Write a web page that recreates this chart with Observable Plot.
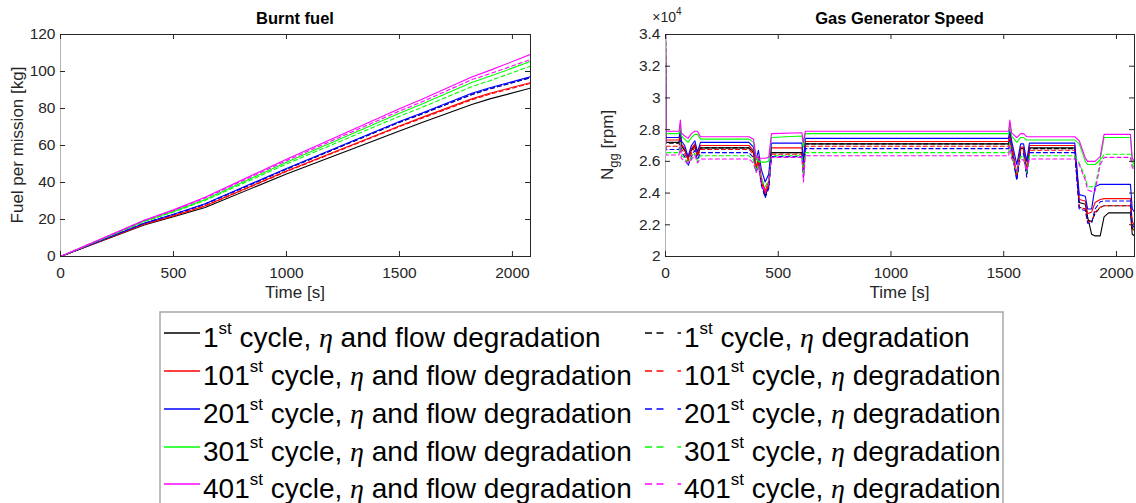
<!DOCTYPE html>
<html><head><meta charset="utf-8">
<script src="https://cdn.jsdelivr.net/npm/d3@7"></script>
<script src="https://cdn.jsdelivr.net/npm/@observablehq/plot@0.6"></script>
<style>
body{margin:0;background:#fff;font-family:"Liberation Sans",Arial,sans-serif;}
#wrap{position:relative;width:1136px;height:503px;overflow:hidden;background:#fff;}
#wrap svg{position:absolute;top:0;}
</style></head><body><div id="wrap"></div>
<script>
const cycles = ["1", "101", "201", "301", "401"];
const colors = ["#000000", "#ff0000", "#0000ff", "#00ff00", "#ff00ff"];
const xTicks = [0, 500, 1000, 1500, 2000];
const fuelTicks = [0, 20, 40, 60, 80, 100, 120];
const nggTicks = [2, 2.2, 2.4, 2.6, 2.8, 3, 3.2, 3.4];

// Burnt fuel [kg]
const fuelTime = [0, 370, 500, 640, 1000, 1500, 1600, 1820, 1900, 2080];
const fuelFull1   = [0, 17.0, 21.5, 26.5, 44.6, 67.8, 72.4, 82.2, 85.2, 91.0];
const fuelFull101 = [0, 17.5, 22.0, 27.4, 46.2, 70.6, 75.2, 85.2, 88.2, 94.0];
const fuelFull201 = [0, 18.0, 22.8, 28.5, 47.6, 73.0, 77.6, 88.2, 91.2, 97.2];
const fuelFull301 = [0, 19.0, 24.4, 30.8, 51.0, 77.4, 82.4, 94.0, 97.4, 105.4];
const fuelFull401 = [0, 19.6, 25.2, 32.0, 52.6, 79.8, 85.0, 97.0, 100.6, 109.2];
const fuelEta1    = [0, 17.9, 22.7, 28.3, 47.2, 72.5, 77.0, 87.5, 90.6, 96.6];
const fuelEta101  = [0, 17.4, 21.9, 27.3, 45.9, 70.2, 74.7, 84.7, 87.7, 93.6];
const fuelEta201  = [0, 17.9, 22.7, 28.3, 47.3, 72.7, 77.2, 87.6, 90.7, 96.7];
const fuelEta301  = [0, 18.8, 24.0, 30.3, 50.0, 75.8, 80.6, 91.8, 95.0, 102.9];
const fuelEta401  = [0, 19.4, 24.9, 31.6, 51.8, 78.6, 83.6, 95.6, 98.8, 106.4];

// Gas generator speed [x10^4 rpm]
const nggTime = [0, 2, 60, 66, 70, 85, 100, 115, 130, 142, 155, 370, 390, 402, 412, 425, 442, 458, 470, 605, 612, 620,
  1522, 1527, 1535, 1558, 1575, 1588, 1602, 1614, 1815, 1835, 1862, 1872, 1890, 1905, 1928, 1945, 1965, 2062, 2070, 2080];
const nggFull1 = [3.40, 2.72, 2.72, 2.78, 2.70, 2.67, 2.62, 2.67, 2.70, 2.64, 2.685, 2.685, 2.66, 2.55, 2.61, 2.47, 2.38, 2.45, 2.655, 2.655, 2.55, 2.71,
  2.71, 2.78, 2.70, 2.49, 2.68, 2.68, 2.52, 2.685, 2.685, 2.34, 2.33, 2.25, 2.14, 2.13, 2.13, 2.25, 2.275, 2.275, 2.14, 2.13];
const nggFull101 = [3.40, 2.735, 2.735, 2.79, 2.71, 2.68, 2.61, 2.68, 2.71, 2.65, 2.70, 2.70, 2.67, 2.56, 2.63, 2.50, 2.41, 2.48, 2.685, 2.685, 2.57, 2.725,
  2.725, 2.79, 2.71, 2.52, 2.69, 2.69, 2.55, 2.70, 2.70, 2.36, 2.35, 2.27, 2.28, 2.34, 2.36, 2.365, 2.365, 2.365, 2.22, 2.20];
const nggFull201 = [3.40, 2.75, 2.75, 2.80, 2.73, 2.70, 2.63, 2.70, 2.73, 2.66, 2.72, 2.72, 2.69, 2.61, 2.67, 2.55, 2.47, 2.52, 2.715, 2.715, 2.60, 2.745,
  2.745, 2.80, 2.73, 2.58, 2.71, 2.71, 2.60, 2.715, 2.715, 2.39, 2.38, 2.30, 2.30, 2.44, 2.455, 2.455, 2.455, 2.455, 2.30, 2.28];
const nggFull301 = [3.40, 2.775, 2.775, 2.84, 2.76, 2.74, 2.72, 2.75, 2.77, 2.77, 2.74, 2.74, 2.72, 2.62, 2.60, 2.595, 2.595, 2.60, 2.75, 2.76, 2.69, 2.775,
  2.775, 2.84, 2.76, 2.72, 2.75, 2.75, 2.735, 2.735, 2.735, 2.71, 2.60, 2.58, 2.58, 2.58, 2.61, 2.75, 2.75, 2.75, 2.60, 2.58];
const nggFull401 = [3.40, 2.79, 2.79, 2.86, 2.78, 2.76, 2.745, 2.775, 2.79, 2.79, 2.755, 2.755, 2.74, 2.63, 2.62, 2.62, 2.62, 2.625, 2.775, 2.78, 2.72, 2.79,
  2.79, 2.86, 2.78, 2.75, 2.775, 2.775, 2.755, 2.755, 2.755, 2.73, 2.62, 2.60, 2.60, 2.60, 2.63, 2.77, 2.77, 2.77, 2.62, 2.60];
const nggEta1 = [3.40, 2.715, 2.715, 2.78, 2.70, 2.67, 2.62, 2.67, 2.70, 2.64, 2.685, 2.685, 2.655, 2.55, 2.60, 2.46, 2.39, 2.44, 2.655, 2.655, 2.53, 2.71,
  2.71, 2.78, 2.70, 2.49, 2.68, 2.68, 2.52, 2.68, 2.68, 2.31, 2.30, 2.23, 2.22, 2.27, 2.31, 2.32, 2.32, 2.32, 2.18, 2.16];
const nggEta101 = [3.40, 2.695, 2.695, 2.76, 2.68, 2.65, 2.60, 2.65, 2.69, 2.63, 2.675, 2.675, 2.645, 2.54, 2.60, 2.47, 2.40, 2.45, 2.645, 2.645, 2.52, 2.695,
  2.695, 2.76, 2.68, 2.50, 2.67, 2.67, 2.52, 2.67, 2.67, 2.31, 2.30, 2.22, 2.22, 2.28, 2.31, 2.32, 2.32, 2.32, 2.18, 2.16];
const nggEta201 = [3.40, 2.675, 2.675, 2.74, 2.66, 2.63, 2.57, 2.63, 2.67, 2.61, 2.655, 2.655, 2.625, 2.53, 2.58, 2.45, 2.37, 2.43, 2.63, 2.63, 2.50, 2.68,
  2.68, 2.74, 2.66, 2.48, 2.65, 2.65, 2.50, 2.655, 2.655, 2.30, 2.29, 2.21, 2.21, 2.30, 2.345, 2.35, 2.35, 2.35, 2.20, 2.18];
const nggEta301 = [3.40, 2.655, 2.655, 2.72, 2.64, 2.62, 2.59, 2.62, 2.65, 2.60, 2.635, 2.635, 2.61, 2.54, 2.58, 2.49, 2.44, 2.48, 2.635, 2.635, 2.51, 2.655,
  2.655, 2.72, 2.64, 2.53, 2.63, 2.63, 2.53, 2.635, 2.635, 2.59, 2.50, 2.44, 2.44, 2.44, 2.60, 2.645, 2.645, 2.645, 2.58, 2.56];
const nggEta401 = [3.40, 2.64, 2.64, 2.70, 2.62, 2.60, 2.59, 2.61, 2.64, 2.59, 2.615, 2.615, 2.59, 2.53, 2.57, 2.46, 2.40, 2.46, 2.625, 2.625, 2.47, 2.635,
  2.635, 2.70, 2.62, 2.54, 2.61, 2.61, 2.54, 2.615, 2.615, 2.58, 2.48, 2.42, 2.41, 2.41, 2.58, 2.625, 2.625, 2.625, 2.56, 2.55];

const fuelFull = [fuelFull1, fuelFull101, fuelFull201, fuelFull301, fuelFull401];
const fuelEta = [fuelEta1, fuelEta101, fuelEta201, fuelEta301, fuelEta401];
const nggFull = [nggFull1, nggFull101, nggFull201, nggFull301, nggFull401];
const nggEta = [nggEta1, nggEta101, nggEta201, nggEta301, nggEta401];

const W = 568, H = 310, MT = 34, MB = 54;
const AX = "#262626";

function chart(opt) {
  const {time, full, eta, yDomain, yTicks, yFormat, marginLeft, marginRight} = opt;
  const iw = W - marginLeft - marginRight, ih = H - MT - MB;
  const marks = [];
  cycles.forEach((c, i) => {
    [[full[i], undefined], [eta[i], "4,3"]].forEach(([vals, dash]) => {
      const data = time.map((t, j) => ({t, v: vals[j]}));
      marks.push(Plot.line(data, {x: "t", y: "v", stroke: colors[i], strokeWidth: 1.1, strokeDasharray: dash, clip: true}));
    });
  });
  marks.push(
    Plot.frame({stroke: AX}),
    Plot.ruleX([0], {stroke: "#b4b4b4"}),
    Plot.tickX(xTicks, {x: d => d, insetTop: ih - 5, stroke: AX}),
    Plot.tickX(xTicks, {x: d => d, insetBottom: ih - 5, stroke: AX}),
    Plot.tickY(yTicks, {y: d => d, insetRight: iw - 5, stroke: AX}),
    Plot.tickY(yTicks, {y: d => d, insetLeft: iw - 5, stroke: AX}),
    Plot.axisX({ticks: xTicks, tickSize: 0, tickPadding: 10, fontSize: 15.5, label: null, tickFormat: d => String(d)}),
    Plot.axisY({ticks: yTicks, tickSize: 0, tickPadding: 5, fontSize: 15.5, label: null, tickFormat: yFormat})
  );
  const svg = Plot.plot({
    width: W, height: H, marginTop: MT, marginBottom: MB, marginLeft, marginRight,
    x: {domain: [0, 2080]},
    y: {domain: yDomain},
    style: {fontFamily: "'Liberation Sans', Arial, sans-serif", fontSize: "15.5px", color: AX, background: "transparent", overflow: "visible"},
    marks
  });
  const s = d3.select(svg);
  s.append("text").attr("x", marginLeft + iw / 2).attr("y", 24).attr("text-anchor", "middle")
    .attr("font-weight", "bold").attr("font-size", 16.5).attr("fill", "#000").text(opt.title);
  s.append("text").attr("x", marginLeft + iw / 2).attr("y", 298).attr("text-anchor", "middle")
    .attr("font-size", 17).attr("fill", AX).text("Time [s]");
  return {svg, s, iw, ih};
}

const wrap = document.getElementById("wrap");

const left = chart({title: "Burnt fuel", time: fuelTime, full: fuelFull, eta: fuelEta,
  yDomain: [0, 120], yTicks: fuelTicks, yFormat: d => String(d), marginLeft: 60, marginRight: 38});
left.svg.style.left = "0px";
left.s.append("text").attr("transform", `translate(23,${MT + left.ih / 2}) rotate(-90)`)
  .attr("text-anchor", "middle").attr("font-size", 17).attr("fill", AX).text("Fuel per mission [kg]");
wrap.appendChild(left.svg);

const right = chart({title: "Gas Generator Speed", time: nggTime, full: nggFull, eta: nggEta,
  yDomain: [2, 3.4], yTicks: nggTicks, yFormat: d => String(+d.toFixed(1)), marginLeft: 97, marginRight: 2});
right.svg.style.left = "568px";
const yl = right.s.append("text").attr("transform", `translate(45,${MT + right.ih / 2}) rotate(-90)`)
  .attr("text-anchor", "middle").attr("font-size", 17).attr("fill", AX);
yl.append("tspan").text("N");
yl.append("tspan").attr("font-size", 13).attr("dy", 5).text("gg");
yl.append("tspan").attr("dy", -5).text(" [rpm]");
const ex = right.s.append("text").attr("x", 99).attr("y", 22).attr("font-size", 14).attr("fill", AX);
ex.append("tspan").text("\u00d710");
ex.append("tspan").attr("font-size", 10).attr("dy", -7).text("4");
wrap.appendChild(right.svg);

// Legend
const lg = d3.select(wrap).append("svg").attr("width", 1136).attr("height", 203)
  .style("top", "300px").style("left", "0px");
lg.append("rect").attr("x", 160).attr("y", 12).attr("width", 843).attr("height", 240)
  .attr("fill", "#fff").attr("stroke", "#a8a8a8").attr("stroke-width", 1.5);
const rowY = [33, 71, 109, 147, 184];
function entry(x0, y, i, dash, tail) {
  lg.append("line").attr("x1", x0).attr("x2", x0 + 36).attr("y1", y).attr("y2", y)
    .attr("stroke", colors[i]).attr("stroke-width", 1.6).attr("stroke-dasharray", dash);
  const t = lg.append("text").attr("x", x0 + 39).attr("y", y + 14).attr("font-size", 28).attr("fill", "#000");
  t.append("tspan").text(cycles[i]);
  t.append("tspan").attr("font-size", 17).attr("dy", -13).text("st");
  t.append("tspan").attr("dy", 13).text(" cycle, ");
  t.append("tspan").attr("font-family", "'Liberation Serif', 'DejaVu Serif', serif").attr("font-style", "italic").text("\u03b7");
  t.append("tspan").text(tail);
}
cycles.forEach((c, i) => {
  entry(164, rowY[i], i, null, " and flow degradation");
  entry(645, rowY[i], i, "7,4.5,7,14", " degradation");
});
</script></body></html>
